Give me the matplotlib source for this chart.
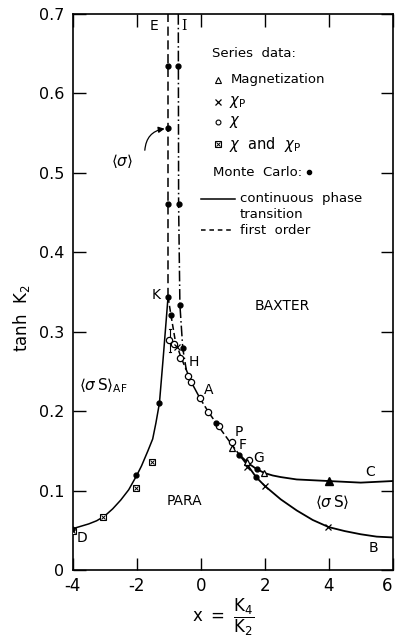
import matplotlib
matplotlib.use("Agg")
import matplotlib.pyplot as plt

# ---------------- data ----------------
# first-order lines (E dashed, I dash-dot)
E_x = [-1.02, -1.02]
E_y = [0.344, 0.70]
I_x = [-0.70, -0.69, -0.65, -0.56, -0.45]
I_y = [0.70, 0.46, 0.334, 0.279, 0.252]

# <sigma s>_AF boundary (D -> K)
AF_x = [-4.0, -3.75, -3.5, -3.25, -3.0, -2.75, -2.5, -2.25, -2.0, -1.85, -1.65,
        -1.5, -1.4, -1.29, -1.17, -1.02]
AF_y = [0.052, 0.055, 0.058, 0.062, 0.068, 0.077, 0.088, 0.101, 0.119, 0.131, 0.150,
        0.165, 0.185, 0.210, 0.268, 0.344]

# K -> H (dashed), H -> A (solid), A -> F (dashed)
KH_x = [-1.02, -0.93, -0.80, -0.62, -0.45]
KH_y = [0.344, 0.321, 0.290, 0.268, 0.252]
HA_x = [-0.45, -0.30, -0.02]
HA_y = [0.252, 0.237, 0.216]
AF2_x = [-0.02, 0.24, 0.50, 0.97, 1.21]
AF2_y = [0.216, 0.199, 0.184, 0.158, 0.145]

# branch C (upper) and B (lower) from F
C_x = [1.21, 1.5, 1.75, 2.0, 2.25, 2.5, 3.0, 3.5, 4.0, 5.0, 6.0]
C_y = [0.145, 0.134, 0.127, 0.122, 0.119, 0.117, 0.114, 0.113, 0.112, 0.110, 0.112]
B_x = [1.21, 1.5, 1.73, 2.0, 2.5, 3.0, 3.5, 4.0, 4.5, 5.0, 5.5, 6.0]
B_y = [0.145, 0.130, 0.117, 0.106, 0.089, 0.075, 0.063, 0.054, 0.049, 0.045, 0.042, 0.041]

# Monte Carlo points
mc_x = [-1.02, -1.02, -1.02, -0.70, -0.69, -0.65, -0.56, -1.02, -0.93,
        0.48, 1.21, 1.75, 1.73, -1.29, -2.02, -4.02]
mc_y = [0.634, 0.556, 0.461, 0.634, 0.461, 0.334, 0.279, 0.344, 0.321,
        0.185, 0.145, 0.127, 0.117, 0.210, 0.119, 0.052]

# series data: chi (open circles)
chi_x = [-0.98, -0.84, -0.65, -0.41, -0.30, -0.02, 0.24, 0.57, 0.97, 1.50]
chi_y = [0.289, 0.285, 0.267, 0.244, 0.237, 0.216, 0.199, 0.181, 0.161, 0.138]
# magnetization (open triangles) and filled one
mag_x = [0.97, 1.46, 1.98]
mag_y = [0.154, 0.136, 0.122]
magf_x = [4.0]
magf_y = [0.112]
# chi_P (x marks)
chip_x = [-0.75, 1.46, 2.01, 3.99]
chip_y = [0.281, 0.130, 0.106, 0.054]
# chi and chi_P (boxed x)
both_x = [-4.0, -3.04, -2.02, -1.53]
both_y = [0.049, 0.067, 0.1035, 0.136]

xticks = [-4, -2, 0, 2, 4, 6]
xticklabels = ["-4", "-2", "0", "2", "4", "6"]
yticks = [0, 0.1, 0.2, 0.3, 0.4, 0.5, 0.6, 0.7]
yticklabels = ["0", "0.1", "0.2", "0.3", "0.4", "0.5", "0.6", "0.7"]

# ---------------- figure ----------------
plt.rcParams['font.family'] = ['DejaVu Sans']
plt.rcParams['mathtext.fontset'] = 'dejavusans'
fig = plt.figure(figsize=(3.96, 6.38), dpi=100)
ax = fig.add_axes([0.1836, 0.1066, 0.808, 0.8714])
ax.set_xlim(-4, 6)
ax.set_ylim(0, 0.7)

lw = 1.1
ax.plot(E_x, E_y, color='k', lw=lw, ls=(0, (6, 3)))
ax.plot(I_x, I_y, color='k', lw=lw, ls=(0, (7, 2, 1, 2)))
ax.plot(AF_x, AF_y, color='k', lw=lw)
ax.plot(KH_x, KH_y, color='k', lw=lw, ls=(0, (4, 2)))
ax.plot(HA_x, HA_y, color='k', lw=lw)
ax.plot(AF2_x, AF2_y, color='k', lw=lw, ls=(0, (4, 2)))
ax.plot(C_x, C_y, color='k', lw=1.3)
ax.plot(B_x, B_y, color='k', lw=1.3)

ms = 4.5
ax.plot(chi_x, chi_y, 'o', mfc='white', mec='k', ms=ms, mew=0.9, ls='none', zorder=3)
ax.plot(mag_x, mag_y, '^', mfc='white', mec='k', ms=ms + 0.5, mew=0.9, ls='none', zorder=3)
ax.plot(magf_x, magf_y, '^', mfc='k', mec='k', ms=ms + 1.5, ls='none', zorder=3)
ax.plot(chip_x, chip_y, 'x', color='k', ms=ms, mew=0.9, ls='none', zorder=3)
ax.plot(both_x, both_y, 's', mfc='white', mec='k', ms=ms, mew=0.8, ls='none', zorder=3)
ax.plot(both_x, both_y, 'x', color='k', ms=ms - 1.2, mew=0.7, ls='none', zorder=4)
ax.plot(mc_x, mc_y, 'o', color='k', ms=3.5, ls='none', zorder=5)

# error bar near chi points
ax.plot([-0.96, -0.96], [0.274, 0.304], color='k', lw=0.8)
ax.plot([-1.0, -0.92], [0.274, 0.274], color='k', lw=0.8)
ax.plot([-1.0, -0.92], [0.304, 0.304], color='k', lw=0.8)

# axes styling
for s in ax.spines.values():
    s.set_linewidth(1.2)
ax.set_xticks(xticks)
ax.set_xticklabels(xticklabels, fontsize=12)
ax.set_yticks(yticks)
ax.set_yticklabels(yticklabels, fontsize=11.5)
ax.tick_params(direction='in', length=9, width=1.0, top=True, right=True)
ax.tick_params(axis='x', pad=5)
ax.tick_params(axis='y', pad=6)
for lab in ax.get_xticklabels():
    if lab.get_text() == "6":
        lab.set_horizontalalignment('right')

# region labels
fs = 10
ax.text(-1.45, 0.685, 'E', fontsize=fs, ha='center', va='center')
ax.text(-0.52, 0.685, 'I', fontsize=fs, ha='center', va='center', family='DejaVu Serif')
ax.text(-1.40, 0.346, 'K', fontsize=fs, ha='center', va='center')
ax.text(-0.22, 0.262, 'H', fontsize=fs, ha='center', va='center')
ax.text(0.25, 0.226, 'A', fontsize=fs, ha='center', va='center')
ax.text(1.18, 0.174, 'P', fontsize=fs, ha='center', va='center')
ax.text(1.32, 0.157, 'F', fontsize=fs, ha='center', va='center')
ax.text(1.80, 0.141, 'G', fontsize=fs, ha='center', va='center')
ax.text(5.30, 0.123, 'C', fontsize=fs, ha='center', va='center')
ax.text(5.40, 0.028, 'B', fontsize=fs, ha='center', va='center')
ax.text(-3.72, 0.040, 'D', fontsize=fs, ha='center', va='center')
ax.text(2.55, 0.333, 'BAXTER', fontsize=fs, ha='center', va='center')
ax.text(-0.50, 0.087, 'PARA', fontsize=fs, ha='center', va='center')
ax.text(4.10, 0.085, r'$\langle\sigma\,\mathrm{S}\rangle$', fontsize=fs + 1, ha='center', va='center')
ax.text(-3.05, 0.232, r'$\langle\sigma\,\mathrm{S}\rangle_{\mathrm{AF}}$', fontsize=fs + 1,
        ha='center', va='center')
ax.text(-2.45, 0.515, r'$\langle\sigma\rangle$', fontsize=fs + 1, ha='center', va='center')
ax.annotate('', xy=(-1.04, 0.556), xytext=(-1.75, 0.525),
            arrowprops=dict(arrowstyle='-|>', color='k', lw=0.9,
                            connectionstyle='arc3,rad=-0.45', mutation_scale=9))

# legend block (drawn as text)
lf = 9.5
ax.text(0.34, 0.650, 'Series  data:', fontsize=lf, va='center')
ax.plot([0.55], [0.617], '^', mfc='white', mec='k', ms=4, mew=0.8)
ax.text(0.95, 0.617, 'Magnetization', fontsize=lf, va='center')
ax.plot([0.55], [0.589], 'x', color='k', ms=4, mew=0.9)
ax.text(0.90, 0.589, r'$\chi_{\mathrm{P}}$', fontsize=lf + 1, va='center')
ax.plot([0.55], [0.564], 'o', mfc='white', mec='k', ms=3.5, mew=0.8)
ax.text(0.90, 0.564, r'$\chi$', fontsize=lf + 1, va='center')
ax.plot([0.55], [0.536], 's', mfc='white', mec='k', ms=4, mew=0.8)
ax.plot([0.55], [0.536], 'x', color='k', ms=2.8, mew=0.7)
ax.text(0.90, 0.536, r'$\chi$  and  $\chi_{\mathrm{P}}$', fontsize=lf + 1, va='center')
ax.text(0.40, 0.501, 'Monte  Carlo:', fontsize=lf, va='center')
ax.plot([3.40], [0.501], 'o', color='k', ms=3)
ax.plot([0.0, 1.07], [0.4675, 0.4675], color='k', lw=1.1)
ax.text(1.22, 0.4675, 'continuous  phase', fontsize=lf, va='center')
ax.text(1.22, 0.448, 'transition', fontsize=lf, va='center')
ax.plot([0.0, 1.05], [0.428, 0.428], color='k', lw=1.1, ls=(0, (3, 2.5)))
ax.text(1.22, 0.428, 'first  order', fontsize=lf, va='center')

# axis labels
fig.text(22 / 396, 1 - 318 / 638, r'tanh  K$_2$', rotation=90, fontsize=12,
         ha='center', va='center')
fig.text(223 / 396, 1 - 617 / 638, r'$\mathrm{x}\ =\ \dfrac{\mathrm{K}_4}{\mathrm{K}_2}$',
         fontsize=12, ha='center', va='center')

fig.savefig('out.png', dpi=100)
